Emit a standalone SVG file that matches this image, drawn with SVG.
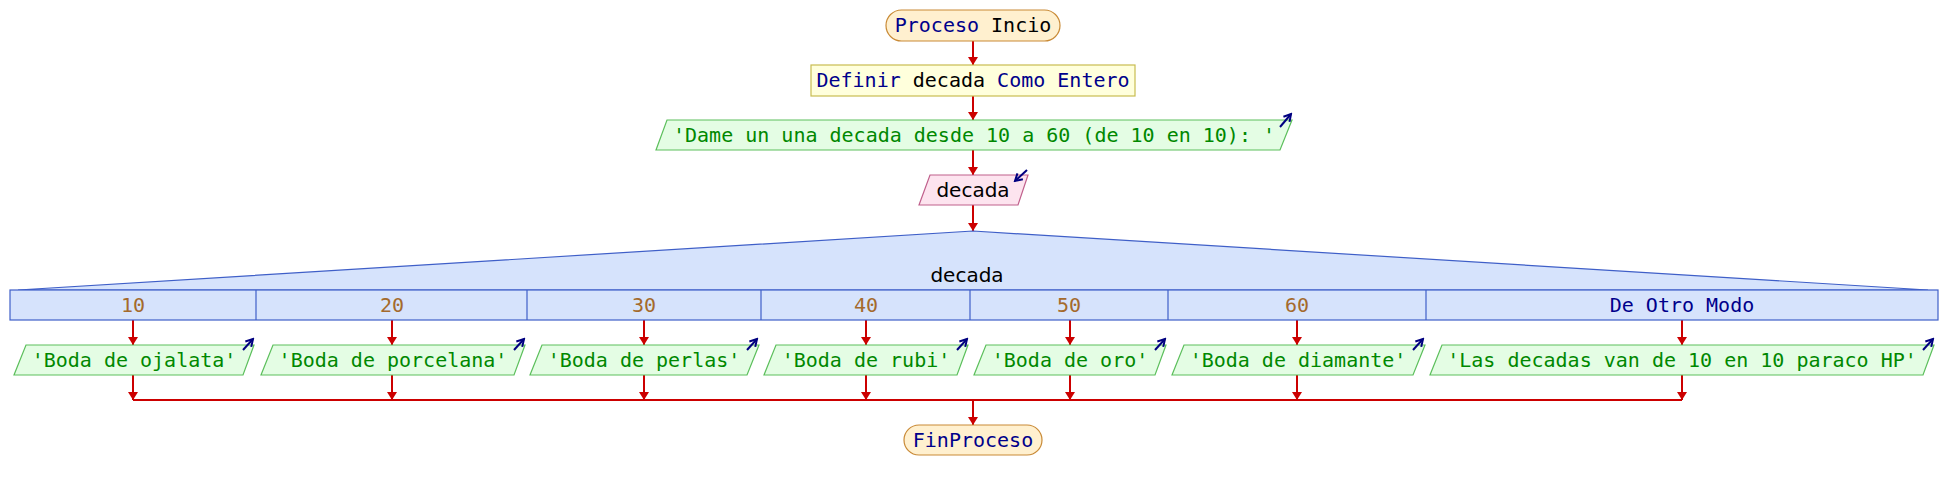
<svg xmlns="http://www.w3.org/2000/svg" width="1946" height="490" viewBox="0 0 1946 490">
<style>
.mono{font-family:"DejaVu Sans Mono","Liberation Mono",monospace;font-size:20px}
.sans{font-family:"DejaVu Sans","Liberation Sans",sans-serif;font-size:20px}
.kw{fill:#00008b}
.bk{fill:#000000}
.term{fill:#fff0cf;stroke:#c98a36;stroke-width:1.2}
.def{fill:#ffffdc;stroke:#c8bc50;stroke-width:1.2}
.out{fill:#e4fde4;stroke:#5cbf5c;stroke-width:1.2}
.outt{fill:#008800}
.inp{fill:#fde4ef;stroke:#c0608c;stroke-width:1.2}
.sw{fill:#d6e3fc;stroke:#3f5fc8;stroke-width:1.2}
.num{fill:#a46a2c}
.con{stroke:#cc0000;stroke-width:2;fill:none}
.ico{stroke:#000080;stroke-width:2;fill:none}
</style>
<defs>
<marker id="ah" markerUnits="userSpaceOnUse" viewBox="0 0 8 10" markerWidth="8" markerHeight="10" refX="8" refY="5" orient="auto">
<path d="M0,0 L8,5 L0,10 z" fill="#cc0000"/>
</marker>
<marker id="ih" markerUnits="userSpaceOnUse" viewBox="0 0 10 10" markerWidth="10" markerHeight="10" refX="8" refY="5" orient="auto">
<path d="M1,1 L8,5 L1,9" fill="none" stroke="#000080" stroke-width="2"/>
</marker>
</defs>
<rect width="1946" height="490" fill="#ffffff"/>

<g id="connectors">
<path class="con" d="M973,41 V65" marker-end="url(#ah)"/>
<path class="con" d="M973,96 V120" marker-end="url(#ah)"/>
<path class="con" d="M973,150 V175" marker-end="url(#ah)"/>
<path class="con" d="M973,205 V231" marker-end="url(#ah)"/>
<path class="con" d="M133,320 V345" marker-end="url(#ah)"/>
<path class="con" d="M392,320 V345" marker-end="url(#ah)"/>
<path class="con" d="M644,320 V345" marker-end="url(#ah)"/>
<path class="con" d="M866,320 V345" marker-end="url(#ah)"/>
<path class="con" d="M1070,320 V345" marker-end="url(#ah)"/>
<path class="con" d="M1297,320 V345" marker-end="url(#ah)"/>
<path class="con" d="M1682,320 V345" marker-end="url(#ah)"/>
<path class="con" d="M133,375 V400" marker-end="url(#ah)"/>
<path class="con" d="M392,375 V400" marker-end="url(#ah)"/>
<path class="con" d="M644,375 V400" marker-end="url(#ah)"/>
<path class="con" d="M866,375 V400" marker-end="url(#ah)"/>
<path class="con" d="M1070,375 V400" marker-end="url(#ah)"/>
<path class="con" d="M1297,375 V400" marker-end="url(#ah)"/>
<path class="con" d="M1682,375 V400" marker-end="url(#ah)"/>
<path class="con" d="M133,400 H1682"/>
<path class="con" d="M973,400 V425" marker-end="url(#ah)"/>
</g>

<g id="n_inicio">
<rect class="term" x="886" y="10" width="174" height="31" rx="15.5"/>
<text class="mono" x="973" y="32" text-anchor="middle"><tspan class="kw">Proceso</tspan><tspan class="bk"> Incio</tspan></text>
</g>

<g id="n_definir">
<rect class="def" x="811" y="65" width="324" height="31"/>
<text class="mono" x="973" y="87" text-anchor="middle"><tspan class="kw">Definir</tspan><tspan class="bk"> decada</tspan><tspan class="kw"> Como Entero</tspan></text>
</g>

<g id="n_escribir0">
<polygon class="out" points="667,120 1292,120 1280,150 656,150"/>
<text class="mono outt" x="974" y="142" text-anchor="middle">'Dame un una decada desde 10 a 60 (de 10 en 10): '</text>
<path class="ico" d="M1280,127 L1291,114" marker-end="url(#ih)"/>
</g>

<g id="n_leer">
<polygon class="inp" points="930,175 1028,175 1018,205 919,205"/>
<text class="sans bk" x="973" y="197" text-anchor="middle">decada</text>
<path class="ico" d="M1027,170 L1015,181" marker-end="url(#ih)"/>
</g>

<g id="n_segun">
<polygon class="sw" points="18,290 973,231 1928,290"/>
<rect class="sw" x="10" y="290" width="1928" height="30"/>
<text class="sans bk" x="967" y="282" text-anchor="middle">decada</text>
<path d="M256,290 V320 M527,290 V320 M761,290 V320 M970,290 V320 M1168,290 V320 M1426,290 V320" stroke="#3f5fc8" stroke-width="1.2"/>
<text class="mono num" x="133" y="312" text-anchor="middle">10</text>
<text class="mono num" x="392" y="312" text-anchor="middle">20</text>
<text class="mono num" x="644" y="312" text-anchor="middle">30</text>
<text class="mono num" x="866" y="312" text-anchor="middle">40</text>
<text class="mono num" x="1069" y="312" text-anchor="middle">50</text>
<text class="mono num" x="1297" y="312" text-anchor="middle">60</text>
<text class="mono kw" x="1682" y="312" text-anchor="middle">De Otro Modo</text>
</g>

<g id="n_caso10">
<polygon class="out" points="26,345 254,345 243,375 14,375"/>
<text class="mono outt" x="134" y="367" text-anchor="middle">'Boda de ojalata'</text>
<path class="ico" d="M243,350 L253,339" marker-end="url(#ih)"/>
</g>
<g id="n_caso20">
<polygon class="out" points="273,345 525,345 514,375 261,375"/>
<text class="mono outt" x="393" y="367" text-anchor="middle">'Boda de porcelana'</text>
<path class="ico" d="M514,350 L524,339" marker-end="url(#ih)"/>
</g>
<g id="n_caso30">
<polygon class="out" points="542,345 759,345 747,375 530,375"/>
<text class="mono outt" x="644" y="367" text-anchor="middle">'Boda de perlas'</text>
<path class="ico" d="M747,350 L757,339" marker-end="url(#ih)"/>
</g>
<g id="n_caso40">
<polygon class="out" points="776,345 968,345 957,375 764,375"/>
<text class="mono outt" x="866" y="367" text-anchor="middle">'Boda de rubi'</text>
<path class="ico" d="M957,350 L967,339" marker-end="url(#ih)"/>
</g>
<g id="n_caso50">
<polygon class="out" points="986,345 1166,345 1155,375 974,375"/>
<text class="mono outt" x="1070" y="367" text-anchor="middle">'Boda de oro'</text>
<path class="ico" d="M1155,350 L1165,339" marker-end="url(#ih)"/>
</g>
<g id="n_caso60">
<polygon class="out" points="1184,345 1425,345 1413,375 1172,375"/>
<text class="mono outt" x="1298" y="367" text-anchor="middle">'Boda de diamante'</text>
<path class="ico" d="M1413,350 L1423,339" marker-end="url(#ih)"/>
</g>
<g id="n_otro">
<polygon class="out" points="1442,345 1934,345 1923,375 1430,375"/>
<text class="mono outt" x="1682" y="367" text-anchor="middle">'Las decadas van de 10 en 10 paraco HP'</text>
<path class="ico" d="M1923,350 L1933,339" marker-end="url(#ih)"/>
</g>

<g id="n_fin">
<rect class="term" x="904" y="425" width="138" height="30" rx="15"/>
<text class="mono kw" x="973" y="447" text-anchor="middle">FinProceso</text>
</g>
</svg>
